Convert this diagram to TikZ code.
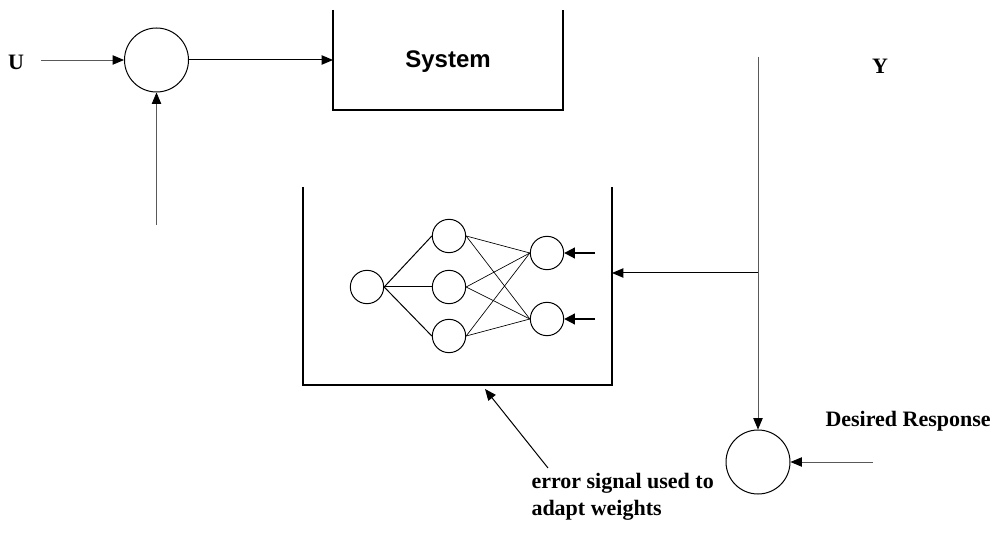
\documentclass[tikz,border=0pt]{standalone}
\usepackage{fontspec}
\setmainfont{Liberation Serif}
\newfontfamily\sysfont{Liberation Sans}
\usetikzlibrary{arrows.meta}

\tikzset{every picture/.style={line width=0.75pt}}
\tikzset{
  sumnode/.style={circle,draw,minimum size=48pt,inner sep=0pt},
  neuron/.style={circle,draw,minimum size=25pt,inner sep=0pt},
  sig/.style={-{Triangle[length=8.5pt,width=7pt]}},
  thinsig/.style={draw=black!65,line width=0.6pt,-{Triangle[length=8.5pt,width=7pt,color=black]}},
  fatsig/.style={-{Triangle[length=8pt,width=8pt]},line width=1.4pt},
  wire/.style={line width=0.5pt},
  lbl/.style={font=\fontsize{16.5}{20}\selectfont\bfseries,inner sep=0.75pt}
}

\begin{document}
\begin{tikzpicture}[x=0.75pt,y=0.75pt,yscale=-1,xscale=1]
        \useasboundingbox (0,0) rectangle (996,534);

        %Shape: Circle (summing junction)
        \node [sumnode] (sum1) at (156.5,60) {};
        %Shape: Circle (error junction)
        \node [sumnode] (sum2) at (758,462) {};

        %Shape: open box (system)
        \draw [line width=1pt]  (333,10) -- (333,110) -- (563,110) -- (563,10) ;
        \coordinate (sysin) at (333,60);
        %Shape: open box (network)
        \draw [line width=1pt]  (303,187) -- (303,385) -- (612,385) -- (612,187) ;
        \coordinate (nnin) at (612,273);

        %Neurons
        \node [neuron] (in1) at (367,287) {};
        \node [neuron] (h1) at (449,236) {};
        \node [neuron] (h2) at (449,287) {};
        \node [neuron] (h3) at (449,336) {};
        \node [neuron] (o1) at (547,253) {};
        \node [neuron] (o2) at (547,319) {};

        %Straight Lines (weights)
        \foreach \h in {h1,h2,h3} {
          \draw    (in1.east) -- (\h.west) ;
          \draw [wire]  (\h.east) -- (o1.west) ;
          \draw [wire]  (\h.east) -- (o2.west) ;
        }

        %Free ends
        \coordinate (uin) at (41,60);
        \coordinate (fb) at (156.5,225);
        \coordinate (ytop) at (758,57);
        \coordinate (ybr) at (758,273);
        \coordinate (dr) at (873,462);
        \coordinate (t1) at (595,253);
        \coordinate (t2) at (595,319);
        \coordinate (errfrom) at (548,468);
        \coordinate (errto) at (485,389);

        %Arrows
        \draw [thinsig]  (uin) -- (sum1.west) ;
        \draw [sig]  (sum1.east) -- (sysin) ;
        \draw [thinsig]  (fb) -- (sum1.south) ;
        \draw [thinsig]  (ytop) -- (sum2.north) ;
        \draw [sig]  (ybr) -- (nnin) ;
        \draw [thinsig]  (dr) -- (sum2.east) ;
        \draw [fatsig]  (t1) -- (o1.east) ;
        \draw [fatsig]  (t2) -- (o2.east) ;
        \draw [sig]  (errfrom) -- (errto) ;

        % Text Node
        \node [lbl] (ulbl) at (16,62) {U};
        % Text Node
        \node [lbl] (ylbl) at (880,66) {Y};
        % Text Node
        \node [font=\sysfont\fontsize{18}{22}\selectfont\bfseries] (syslbl) at (448,62) {System};
        % Text Node
        \node [lbl,anchor=west] (dlbl) at (824,421) {Desired Response};
        % Text Node
        \node [lbl,anchor=north west,align=left] (elbl) at (530,472) {error signal used to\\adapt weights};

\end{tikzpicture}
\end{document}
